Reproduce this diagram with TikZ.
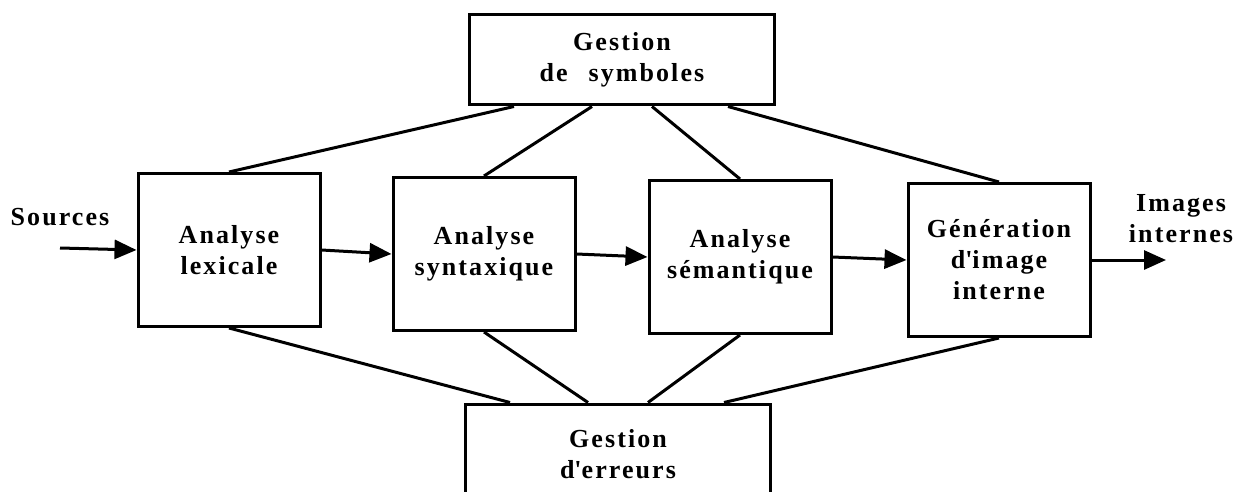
\documentclass[tikz,border=0pt]{standalone}
\usepackage{fontspec}
\setmainfont[LetterSpace=8]{Liberation Serif}
\usetikzlibrary{arrows.meta}

\begin{document}
\begin{tikzpicture}[x=1pt,y=-1pt,>={Triangle[length=22pt,width=19pt]},line width=3pt,font=\fontsize{26}{31}\selectfont\bfseries]
\tikzstyle{blk}=[draw,align=center,inner sep=0pt,minimum width=182pt,minimum height=153pt]
\tikzstyle{gst}=[draw,align=center,inner sep=0pt,minimum width=305pt]
\useasboundingbox (0,0) rectangle (1247,492);
\clip (0,0) rectangle (1247,492);
\node[gst,minimum height=90pt] (sym) at (622,60) {Gestion\\de\hspace{0.8em}symboles};
\node[gst,minimum height=100pt] (err) at (618,454) {Gestion\\d\textquotesingle erreurs};
\node[blk] (lex) at (229,250) {Analyse\\lexicale};
\node[blk] (syn) at (484,254) {Analyse\\syntaxique};
\node[blk] (sem) at (740,257) {Analyse\\sémantique};
\node[blk] (gen) at (999,260) {Génération\\d\textquotesingle image\\interne};
\node (srclbl) at (60,217) {Sources};
\node[align=center] (outlbl) at (1181,219) {Images\\internes};
\coordinate (src) at (60,248);
\coordinate (out) at (1166,260);
\draw[->] (src) -- (lex.west); \draw[->] (lex.east) -- (syn.west); \draw[->] (syn.east) -- (sem.west);
\draw[->] (sem.east) -- (gen.west); \draw[->] (gen.east) -- (out);
\draw ([xshift=-108pt]sym.south) -- (lex.north); \draw ([xshift=-30pt]sym.south) -- (syn.north);
\draw ([xshift=30pt]sym.south) -- (sem.north); \draw ([xshift=106pt]sym.south) -- (gen.north);
\draw ([xshift=-108pt]err.north) -- (lex.south); \draw ([xshift=-30pt]err.north) -- (syn.south);
\draw ([xshift=30pt]err.north) -- (sem.south); \draw ([xshift=106pt]err.north) -- (gen.south);
\end{tikzpicture}
\end{document}
